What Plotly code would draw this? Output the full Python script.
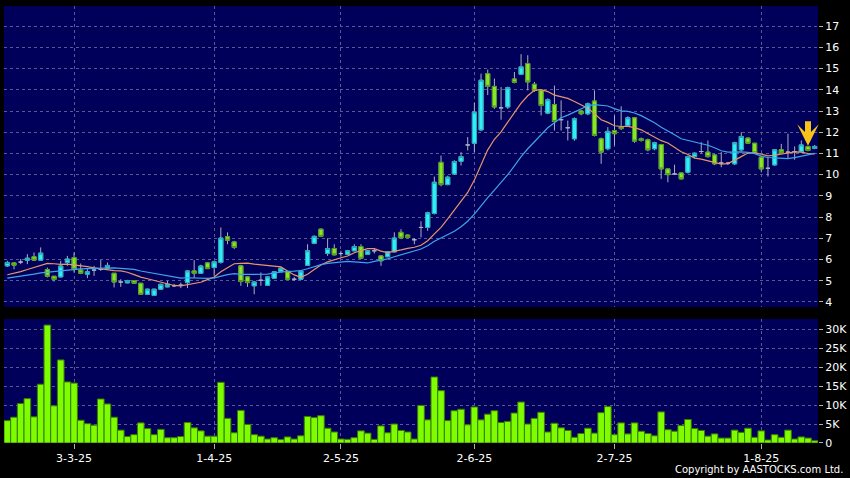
import pandas as pd
import plotly.graph_objects as go

# ---------------- data ----------------
hk_holidays = ["2025-04-04", "2025-04-18", "2025-04-21", "2025-05-01", "2025-05-05", "2025-07-01"]
dates = [d.strftime("%Y-%m-%d") for d in pd.bdate_range("2025-02-17", "2025-08-13")
         if d.strftime("%Y-%m-%d") not in hk_holidays]

opens = [5.70, 5.84, 5.88, 5.97, 6.13, 5.97, 5.53, 5.21, 5.18, 5.86,
         6.09, 5.50, 5.31, 5.50, 5.54, 5.59, 5.35, 4.94, 4.90, 5.01,
         4.88, 4.36, 4.31, 4.60, 4.71, 4.76, 4.79, 4.91, 5.46, 5.35,
         5.84, 5.62, 5.86, 7.07, 6.83, 5.70, 5.18, 4.76, 5.02, 4.79,
         5.12, 5.43, 5.42, 5.07, 5.07, 5.73, 6.76, 7.43, 6.28, 6.52,
         6.28, 6.25, 6.41, 6.61, 6.25, 6.41, 6.17, 6.13, 6.36, 7.28,
         7.15, 6.93, 7.51, 7.51, 8.17, 10.58, 9.53, 10.03, 10.63, 11.40,
         11.48, 12.11, 14.76, 14.16, 13.15, 13.19, 14.51, 14.73, 15.24, 14.26,
         13.97, 12.90, 13.30, 12.59, 12.21, 11.69, 13.00, 12.87, 13.47, 11.69,
         11.22, 12.08, 12.24, 12.32, 12.68, 11.69, 11.64, 11.22, 11.42, 10.27,
         10.03, 10.08, 10.11, 10.85, 11.09, 11.06, 10.93, 10.55, 10.54, 10.51,
         11.17, 11.72, 11.48, 10.82, 10.30, 10.46, 11.17, 11.06, 11.09, 11.09,
         11.33, 11.24]
highs = [5.94, 5.86, 6.02, 6.25, 6.33, 6.57, 5.62, 5.21, 5.94, 6.17,
         6.33, 5.81, 5.54, 5.70, 5.97, 5.86, 5.35, 5.07, 5.04, 5.03,
         4.90, 4.63, 4.62, 4.86, 4.99, 4.85, 4.91, 5.50, 5.97, 5.75,
         5.88, 5.92, 7.51, 7.28, 6.88, 5.75, 5.22, 4.99, 5.39, 5.22,
         5.46, 5.62, 5.46, 5.18, 5.50, 6.72, 7.14, 7.46, 7.00, 6.72,
         6.41, 6.45, 6.72, 6.72, 6.45, 6.52, 6.20, 6.40, 7.28, 7.43,
         7.18, 7.01, 7.80, 8.25, 9.91, 10.90, 9.95, 10.68, 11.06, 11.77,
         13.38, 14.76, 14.95, 14.53, 14.13, 14.15, 14.84, 15.68, 15.63, 14.37,
         14.02, 13.60, 14.20, 13.50, 12.55, 12.70, 13.05, 13.40, 13.97, 11.75,
         12.24, 12.79, 13.22, 12.75, 12.72, 11.75, 11.70, 11.55, 11.45, 10.30,
         10.47, 10.11, 10.90, 11.05, 11.53, 11.61, 10.98, 11.06, 10.60, 11.55,
         12.00, 11.76, 11.50, 10.87, 10.82, 11.20, 11.45, 11.93, 11.33, 11.61,
         11.36, 11.40]
lows = [5.65, 5.54, 5.78, 5.78, 5.94, 5.97, 5.15, 4.96, 5.15, 5.70,
        5.39, 5.31, 5.12, 5.23, 5.46, 5.54, 4.68, 4.71, 4.88, 4.86,
        4.33, 4.33, 4.30, 4.58, 4.69, 4.70, 4.65, 4.65, 5.12, 5.33,
        5.55, 5.23, 5.80, 6.72, 6.49, 4.76, 4.71, 4.36, 4.76, 4.76,
        5.10, 5.40, 5.04, 4.99, 5.04, 5.70, 6.72, 7.05, 6.17, 6.19,
        6.13, 6.22, 6.38, 6.03, 6.22, 6.28, 5.70, 6.10, 6.33, 6.98,
        7.00, 6.72, 7.04, 7.35, 8.12, 9.45, 9.50, 10.00, 10.43, 11.14,
        11.06, 12.05, 13.75, 13.10, 12.59, 13.10, 14.30, 14.70, 13.97, 13.90,
        12.79, 12.85, 12.08, 12.08, 11.61, 11.60, 12.80, 12.80, 11.80, 10.51,
        11.15, 11.37, 12.10, 12.28, 11.50, 11.55, 11.10, 11.15, 9.80, 9.64,
        9.98, 9.77, 10.05, 10.80, 11.00, 10.80, 10.45, 10.35, 10.45, 10.45,
        11.10, 11.45, 10.98, 10.11, 9.91, 10.42, 11.00, 10.74, 10.70, 11.05,
        11.10, 11.20]
closes = [5.86, 5.73, 5.88, 6.06, 5.97, 6.30, 5.21, 5.06, 5.69, 6.02,
          5.54, 5.35, 5.42, 5.50, 5.54, 5.72, 4.94, 4.94, 5.01, 4.88,
          4.36, 4.60, 4.60, 4.83, 4.83, 4.76, 4.79, 5.46, 5.35, 5.69,
          5.57, 5.89, 7.01, 6.91, 6.57, 4.96, 4.91, 4.94, 5.02, 5.18,
          5.42, 5.59, 5.07, 5.07, 5.46, 6.41, 7.09, 7.09, 6.52, 6.22,
          6.28, 6.41, 6.61, 6.06, 6.41, 6.41, 5.94, 6.36, 7.01, 7.01,
          7.04, 6.93, 7.51, 8.20, 9.64, 9.53, 9.88, 10.62, 10.85, 11.40,
          12.95, 14.45, 14.16, 13.19, 13.15, 14.10, 14.35, 15.08, 14.37, 13.97,
          13.26, 13.53, 12.51, 12.59, 12.21, 12.63, 12.87, 13.34, 11.85, 11.06,
          12.04, 11.93, 12.17, 12.68, 11.58, 11.61, 11.17, 11.50, 10.27, 10.00,
          10.03, 9.80, 10.85, 11.01, 11.09, 10.85, 10.51, 10.55, 10.54, 11.50,
          11.80, 11.48, 11.03, 10.27, 10.30, 11.17, 11.03, 11.06, 11.09, 11.40,
          11.14, 11.33]
volumes_k = [5.9, 6.8, 10.4, 11.7, 6.9, 15.5, 31.1, 9.8, 21.9, 16.1,
             15.8, 6.0, 5.1, 4.7, 11.6, 10.3, 6.8, 3.4, 1.7, 2.2,
             5.3, 3.8, 2.2, 3.6, 1.4, 1.4, 1.7, 5.4, 4.0, 3.2,
             1.8, 1.8, 16.0, 6.5, 2.7, 8.6, 4.9, 2.2, 1.8, 1.05,
             1.4, 0.9, 1.6, 1.05, 1.9, 7.0, 6.7, 7.2, 3.9, 2.9,
             1.05, 0.96, 1.4, 3.2, 2.6, 0.96, 4.5, 2.7, 5.0, 3.3,
             2.9, 1.05, 9.9, 6.1, 17.4, 13.8, 5.9, 8.5, 8.9, 4.8,
             9.5, 6.1, 7.6, 8.5, 5.4, 5.7, 7.9, 10.8, 5.0, 6.5,
             8.1, 2.9, 5.2, 4.0, 3.3, 1.5, 2.5, 3.9, 2.6, 8.0,
             9.6, 2.2, 5.3, 2.4, 5.3, 3.1, 2.5, 1.9, 8.2, 3.5,
             3.1, 4.6, 6.2, 3.8, 3.3, 1.8, 2.4, 1.3, 1.3, 3.4,
             2.8, 3.9, 1.5, 3.2, 0.8, 2.2, 1.5, 3.4, 1.05, 1.6,
             1.3, 0.6]
volumes = [v * 1000 for v in volumes_k]

# moving averages visible at the left edge (window extends before the chart)
ma10_head = [5.28, 5.35, 5.43, 5.53, 5.63, 5.75, 5.82, 5.80, 5.77]
ma20_head = [5.12, 5.16, 5.22, 5.27, 5.31, 5.37, 5.40, 5.44, 5.48, 5.52,
             5.54, 5.56, 5.57, 5.58, 5.60, 5.61, 5.60, 5.58, 5.55]

tick_dates = ["2025-03-03", "2025-04-01", "2025-05-02", "2025-06-02", "2025-07-02", "2025-08-01"]
tick_labels = ["3-3-25", "1-4-25", "2-5-25", "2-6-25", "2-7-25", "1-8-25"]
price_ticks = list(range(4, 18))
vol_ticks = [0, 5000, 10000, 15000, 20000, 25000, 30000]
vol_tick_labels = ["0", "5K", "10K", "15K", "20K", "25K", "30K"]

close_s = pd.Series(closes)
ma10 = close_s.rolling(10).mean().tolist()
ma20 = close_s.rolling(20).mean().tolist()
ma10[:len(ma10_head)] = ma10_head
ma20[:len(ma20_head)] = ma20_head

# bodies drawn on top of grey wicks (doji candles keep only the grey cross)
body_open = [o if o != c else None for o, c in zip(opens, closes)]
body_close = [c if o != c else None for o, c in zip(opens, closes)]
body_hi = [max(o, c) if o != c else None for o, c in zip(opens, closes)]
body_lo = [min(o, c) if o != c else None for o, c in zip(opens, closes)]

# ---------------- figure ----------------
GRID = dict(showgrid=True, gridcolor="#5a5a92", griddash="dot", gridwidth=1, zeroline=False)
WICK = "#a9b0c2"

fig = go.Figure()
fig.add_trace(go.Candlestick(
    x=dates, open=opens, high=highs, low=lows, close=closes,
    increasing=dict(fillcolor="#30eef6", line=dict(color=WICK, width=1)),
    decreasing=dict(fillcolor="#88e62a", line=dict(color=WICK, width=1)),
    whiskerwidth=0, xaxis="x", yaxis="y", hoverinfo="skip", showlegend=False))
fig.add_trace(go.Candlestick(
    x=dates, open=body_open, high=body_hi, low=body_lo, close=body_close,
    increasing=dict(fillcolor="#30eef6", line=dict(color="#1fa9b8", width=1)),
    decreasing=dict(fillcolor="#88e62a", line=dict(color="#4f9a14", width=1)),
    whiskerwidth=0, xaxis="x", yaxis="y", hoverinfo="skip", showlegend=False))
fig.add_trace(go.Scatter(x=dates, y=ma10, mode="lines", xaxis="x", yaxis="y",
                         line=dict(color="#e8946a", width=1.2), hoverinfo="skip"))
fig.add_trace(go.Scatter(x=dates, y=ma20, mode="lines", xaxis="x", yaxis="y",
                         line=dict(color="#3ea4ea", width=1.2), hoverinfo="skip"))
fig.add_trace(go.Bar(x=dates, y=volumes, xaxis="x2", yaxis="y2",
                     marker=dict(color="#7efc00", line=dict(color="#3a7c00", width=1)),
                     hoverinfo="skip"))

fig.update_layout(
    width=850, height=478,
    paper_bgcolor="#000000", plot_bgcolor="#00005a",
    margin=dict(l=4, r=32, t=6, b=35),
    showlegend=False, boxgap=0.12, boxmode="overlay", bargap=0,
    font=dict(family="DejaVu Sans", size=11, color="#ffffff"),
    xaxis=dict(type="category", domain=[0, 1], anchor="y", range=[-0.5, len(dates) - 0.5],
               tickvals=tick_dates, ticktext=tick_labels, showticklabels=False, ticks="",
               rangeslider=dict(visible=False), **GRID),
    yaxis=dict(domain=[0.3112, 1], anchor="x", side="right", range=[3.76, 17.95],
               tickvals=price_ticks, ticks="outside", ticklen=4, tickcolor="#b0b0b0",
               **GRID),
    xaxis2=dict(type="category", domain=[0, 1], anchor="y2", matches="x",
                tickvals=tick_dates, ticktext=tick_labels, ticks="outside", ticklen=5,
                tickcolor="#b0b0b0", **GRID),
    yaxis2=dict(domain=[0, 0.2838], anchor="x2", side="right", range=[0, 32700],
                tickvals=vol_ticks, ticktext=vol_tick_labels, ticks="outside", ticklen=4,
                tickcolor="#b0b0b0", **GRID),
)

fig.add_annotation(x=dates[120], y=highs[120], xref="x", yref="y", text="",
                   showarrow=True, ax=0, ay=-26, arrowhead=3, arrowsize=0.6,
                   arrowwidth=6, arrowcolor="#f7c21a", standoff=0)
fig.add_annotation(x=1.0332, y=-0.0595, xref="paper", yref="paper",
                   text="Copyright by AASTOCKS.com Ltd.", showarrow=False,
                   xanchor="right", yanchor="middle",
                   font=dict(family="DejaVu Sans", size=10, color="#ffffff"))

fig.write_html("out.html", config={"displayModeBar": False, "staticPlot": True},
               post_script="document.body.style.margin='0';"
                           "document.body.style.background='#000';"
                           "document.body.style.overflow='hidden';")
